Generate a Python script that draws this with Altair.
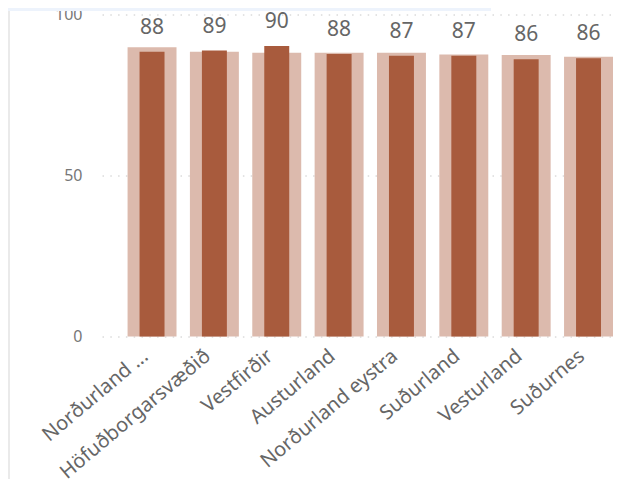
import altair as alt
import pandas as pd

regions = ["Norðurland ...", "Höfuðborgarsvæðið", "Vestfirðir", "Austurland",
           "Norðurland eystra", "Suðurland", "Vesturland", "Suðurnes"]
values = [88.4, 88.8, 90.2, 87.7, 87.2, 87.2, 86.1, 86.4]
background = [89.8, 88.4, 88.1, 88.1, 88.1, 87.6, 87.4, 86.9]

df = pd.DataFrame({"region": regions, "value": values, "bg": background})

xenc = alt.X("region:N", sort=regions, title=None,
             scale=alt.Scale(paddingInner=0.215, paddingOuter=0.205, align=1),
             axis=alt.Axis(labelAngle=-40, labelFontSize=20, labelColor="#666666",
                           labelFont="Noto Sans", domain=False, ticks=False,
                           labelPadding=9, labelOffset=-13, labelLimit=300,
                           labelOverlap=False))
yscale = alt.Scale(domain=[0, 100], nice=False)
yaxis = alt.Axis(values=[0, 50, 100], title=None, domain=False, ticks=False,
                 labelFontSize=16, labelColor="#777777", labelFont="Noto Sans",
                 labelPadding=20, gridColor="#c8c8c8", gridDash=[1.5, 6.3],
                 gridWidth=1)

base = alt.Chart(df)
bg = base.mark_bar(color="#dcbaad").encode(
    x=xenc, y=alt.Y("bg:Q", scale=yscale, axis=yaxis))
fg = base.mark_bar(color="#a85b3d", width=alt.RelativeBandSize(0.51)).encode(
    x=alt.X("region:N", sort=regions), y=alt.Y("value:Q"))
txt = base.mark_text(baseline="bottom", dy=-14, fontSize=21, color="#666666",
                     font="Noto Sans").encode(
    x=alt.X("region:N", sort=regions), y=alt.Y("value:Q"),
    text=alt.Text("value:Q", format=".0f"))

deco = alt.Chart(alt.Data(values=[{"k": 1}]))
strip = deco.mark_rect(color="#edf3fc").encode(
    x=alt.value(-94), x2=alt.value(389), y=alt.value(-6.5), y2=alt.value(-3.5))
vline = deco.mark_rule(color="#e3e3e3", strokeWidth=1.5).encode(
    x=alt.value(-93), y=alt.value(-3.5), y2=alt.value(470))

chart = alt.layer(bg, fg, txt, strip, vline).properties(
    width=511, height=322, autosize="none", background="white",
    padding={"left": 94, "top": 6.5, "right": 0, "bottom": 142}
).configure_view(stroke=None)

chart.save("out.html", embed_options={"renderer": "svg", "actions": False})
